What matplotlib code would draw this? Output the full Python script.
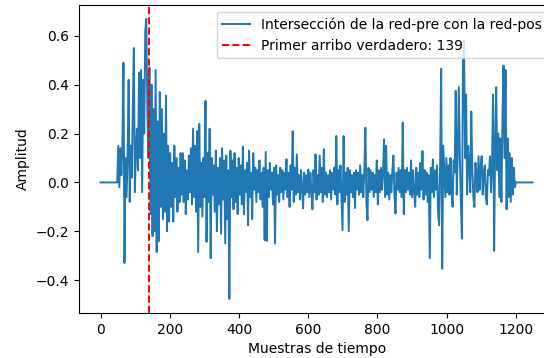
import numpy as np
import matplotlib
matplotlib.use("Agg")
import matplotlib.pyplot as plt

step = 3  # samples between listed values

lead_zeros = [0.0] * 17  # samples 0..48

early_burst = [0.15, -0.02, 0.14, 0.03, 0.16, 0.49, -0.33, 0.10, -0.06, 0.12,
               0.42, -0.08, 0.15, 0.02, 0.30, 0.55, -0.04, 0.13, 0.22, 0.05,
               0.45, 0.10, 0.46, -0.04, 0.42, 0.20, 0.62, 0.67, 0.30]

post_arrival = [0.10, 0.47, -0.13, 0.40, -0.22, 0.30, -0.20, 0.46, -0.285, 0.25,
                -0.24, 0.37, -0.10, 0.30, -0.15, 0.20, -0.12, 0.355, -0.20, 0.15,
                -0.16]

medium = [0.12, -0.10, 0.08, -0.16, 0.15, -0.06, 0.10, -0.12, 0.06, -0.08,
          0.12, -0.05, 0.12, -0.08, 0.09, -0.13, 0.05, -0.07, 0.11, -0.04,
          0.14, -0.09, 0.22, -0.06, 0.15, -0.12, 0.21, -0.285, 0.24, -0.10,
          0.08, -0.14, 0.10, -0.06, 0.334, -0.243, 0.12, -0.08, 0.22, -0.31,
          0.10, -0.05, 0.07, -0.12, 0.13, -0.20, 0.06, -0.09, 0.10, -0.21,
          0.14, -0.07, 0.09, -0.25, 0.11, -0.15, 0.05, -0.477, 0.13, -0.06,
          0.09, -0.11, 0.12, -0.08, 0.06, -0.13, 0.10]

low_noise = [-0.05, 0.07, -0.09, 0.147, -0.13, 0.05, -0.04, 0.08, -0.175, 0.13,
             -0.06, 0.04, -0.15, 0.12, -0.03, 0.06, -0.08, 0.05, -0.04, 0.09,
             -0.07, 0.04, -0.10, 0.06, -0.236, 0.125, -0.24, 0.05, -0.06, 0.08,
             -0.03, 0.04, -0.09, 0.06, -0.25, 0.07, -0.05, 0.03, -0.08, 0.06,
             -0.04, 0.05, -0.07, 0.04, -0.03, 0.095, -0.06, 0.04, -0.10, 0.07,
             -0.03, 0.21, -0.08, 0.06, -0.05, 0.115, -0.04, 0.03, -0.07, 0.05,
             -0.02, -0.106, 0.04, -0.05, 0.03, -0.04, 0.053, -0.06, 0.04, -0.03,
             -0.11, 0.05, -0.04, 0.115, -0.07, 0.03, -0.05, 0.11, -0.04, 0.06,
             -0.08, 0.136, -0.05, 0.04, -0.06, 0.03, -0.04, 0.05, -0.07, 0.04,
             -0.03, 0.06, -0.05, 0.19, -0.09, 0.05, -0.04, 0.07, -0.06, -0.195,
             0.19, -0.08, 0.04, -0.05, 0.06, -0.20, 0.05, -0.04, 0.03, -0.06,
             0.04, -0.105, 0.05, -0.03, 0.04, -0.05, 0.07, -0.04, 0.03, -0.06,
             0.05, 0.224, -0.08, -0.155, 0.06, -0.04, 0.05, -0.03, 0.04, -0.06,
             0.03, -0.04, 0.09, -0.09, 0.05, -0.04, 0.06, -0.03, 0.04, 0.177,
             -0.06, 0.15, -0.05, 0.04, -0.07, 0.03, -0.04, 0.05, 0.11, -0.05,
             -0.127, 0.04, -0.03, 0.06, -0.04, 0.05, -0.06, 0.245, -0.13, 0.05,
             -0.04, 0.06, -0.03, 0.04, -0.05, 0.09, -0.06]

late_burst = [0.05, -0.04, -0.10, 0.06, -0.05, 0.04, -0.06, 0.08, -0.03, 0.128,
              -0.07, 0.05, -0.05, 0.04, -0.08, 0.03, -0.31, 0.06, -0.04, 0.094,
              -0.06, 0.05, -0.03, 0.07, -0.12, -0.175, 0.08, 0.465, -0.353, 0.15,
              0.05, -0.06, 0.10, -0.04, 0.07, -0.05, 0.10, -0.03, -0.10, 0.09,
              0.04, 0.375, -0.05, 0.12, 0.39, 0.10, -0.08, -0.23, 0.50, 0.58,
              0.10, 0.36, -0.05, 0.15, 0.06, -0.04, 0.29, 0.05, -0.06, -0.10,
              0.08, 0.03, -0.04, 0.107, -0.03, 0.06, 0.107, -0.05, 0.04, 0.07,
              -0.06, -0.09, 0.05, 0.03, 0.107, -0.04, 0.08, 0.36, -0.28, 0.15,
              0.39, 0.05, 0.20, -0.06, 0.18, -0.08, 0.25, 0.478, 0.10, 0.46,
              -0.11, 0.18, -0.06, 0.12, -0.08, 0.10, -0.05, 0.06, -0.02]

trail_zeros = [0.0] * 17  # samples 1200..1248

signal = lead_zeros + early_burst + post_arrival + medium + low_noise + late_burst + trail_zeros
first_arrival = 139
n_samples = 1250

label_line = "Intersección de la red-pre con la red-pos"
label_arrival = "Primer arribo verdadero: 139"

dpi = 100
fig = plt.figure(figsize=(544 / dpi, 358 / dpi), dpi=dpi)
ax = fig.add_axes([79 / 544, 45 / 358, (554.5 - 79) / 544, (313 - 4.7) / 358])

t = np.arange(len(signal)) * step
ax.plot(t, signal, color="#1f77b4", linewidth=1.4, label=label_line)
ax.axvline(first_arrival, color="red", linestyle="--", linewidth=1.4, label=label_arrival)

margin = 0.05 * (n_samples - 1)
ax.set_xlim(-margin, n_samples - 1 + margin)
ax.set_xlabel("Muestras de tiempo")
ax.set_ylabel("Amplitud")
ax.set_xticks([0, 200, 400, 600, 800, 1000, 1200])
ax.set_yticks([-0.4, -0.2, 0.0, 0.2, 0.4, 0.6])
ax.legend(loc="upper right")

fig.savefig("out.png", dpi=dpi)
